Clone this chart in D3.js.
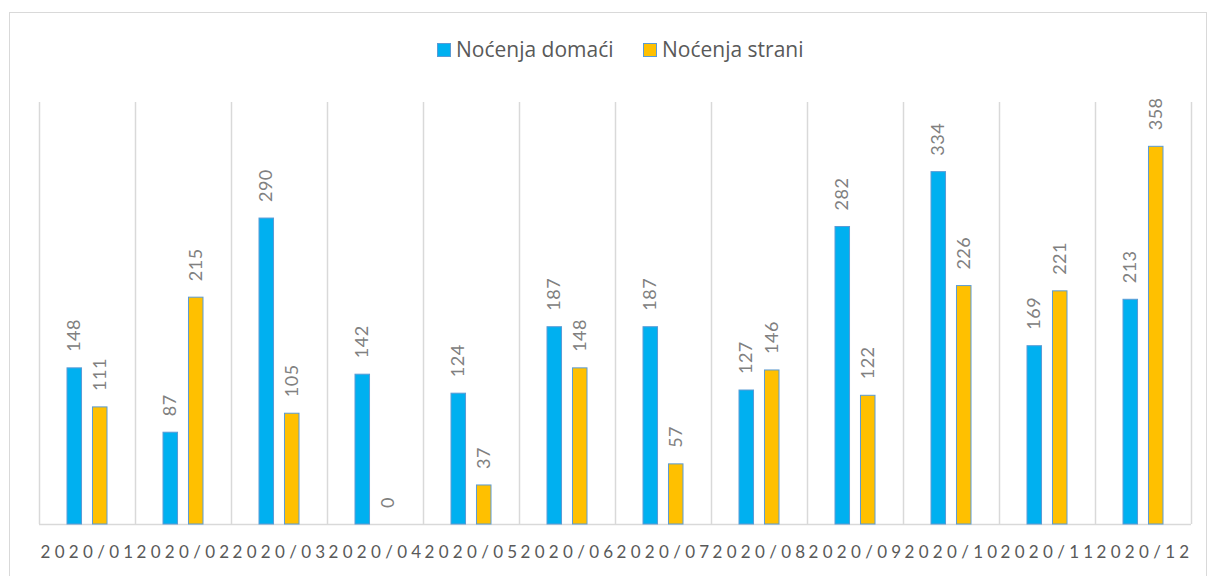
<!DOCTYPE html>
<html>
<head>
<meta charset="utf-8">
<script src="https://cdn.jsdelivr.net/npm/d3@7"></script>
<style>
  body { margin: 0; background: #fff; }
  svg { display: block; font-family: "Open Sans", Lato, sans-serif; }
</style>
</head>
<body>
<div class="chart"></div>
<script>
// Data
const months = ["2020/01", "2020/02", "2020/03", "2020/04", "2020/05", "2020/06",
                "2020/07", "2020/08", "2020/09", "2020/10", "2020/11", "2020/12"];
const domaci = [148, 87, 290, 142, 124, 187, 187, 127, 282, 334, 169, 213];
const strani = [111, 215, 105, 0, 37, 148, 57, 146, 122, 226, 221, 358];
const seriesNames = ["Noćenja domaći", "Noćenja strani"];
const seriesColors = ["#00B0F0", "#FFC000"];

const width = 1209, height = 576;
const margin = { top: 102, right: 18, bottom: 52, left: 39 };
const chartWidth = width - margin.left - margin.right;
const chartHeight = height - margin.top - margin.bottom;

const svg = d3.select(".chart").append("svg")
    .attr("width", width)
    .attr("height", height);

// outer chart border
svg.append("rect")
    .attr("x", 9.5).attr("y", 12.5)
    .attr("width", 1197).attr("height", 580)
    .attr("fill", "none")
    .attr("stroke", "#d9d9d9");

const g = svg.append("g")
    .attr("transform", `translate(${margin.left}, ${margin.top})`);

const xScale = d3.scaleBand()
    .domain(months)
    .range([0, chartWidth]);

// two bars inside each month
const inner = d3.scaleBand()
    .domain([0, 1])
    .range([28, 68])
    .paddingInner(0.43);

const yScale = d3.scaleLinear()
    .domain([0, 400])
    .range([chartHeight, 0]);

// vertical gridlines between categories
g.selectAll(".vgrid")
    .data(d3.range(months.length + 1))
    .enter()
    .append("line")
    .attr("x1", i => i * xScale.step() + 0.5)
    .attr("x2", i => i * xScale.step() + 0.5)
    .attr("y1", 0)
    .attr("y2", chartHeight)
    .attr("stroke", "#d9d9d9")
    .attr("stroke-width", 1.5);

// baseline
g.append("line")
    .attr("x1", 0).attr("x2", chartWidth)
    .attr("y1", chartHeight + 0.5).attr("y2", chartHeight + 0.5)
    .attr("stroke", "#d9d9d9")
    .attr("stroke-width", 1.5);

// x axis labels
const xAxis = d3.axisBottom(xScale).tickSize(0).tickPadding(22);
const xg = g.append("g")
    .attr("transform", `translate(0, ${chartHeight})`)
    .call(xAxis);
xg.select(".domain").remove();
xg.selectAll("text")
    .attr("fill", "#595959")
    .style("font-family", "Lato, sans-serif")
    .style("font-size", "17px")
    .style("letter-spacing", "4.3px")
    .attr("dx", "2px");

// bars
const rows = months.map((m, i) => ({ month: m, values: [domaci[i], strani[i]] }));
const groups = g.selectAll(".group")
    .data(rows)
    .enter()
    .append("g")
    .attr("transform", d => `translate(${xScale(d.month)}, 0)`);

groups.selectAll("rect")
    .data(d => d.values.map((v, s) => ({ s, v })))
    .enter()
    .append("rect")
    .attr("x", d => inner(d.s))
    .attr("y", d => yScale(d.v))
    .attr("width", inner.bandwidth())
    .attr("height", d => chartHeight - yScale(d.v))
    .attr("fill", d => seriesColors[d.s])
    .attr("stroke", "#5B9BD5")
    .attr("stroke-width", 1);

// value labels
groups.selectAll(".val")
    .data(d => d.values.map((v, s) => ({ s, v })))
    .enter()
    .append("text")
    .attr("transform", d => `translate(${inner(d.s) + inner.bandwidth() / 2 + 6}, ${yScale(d.v) - 16}) rotate(-90)`)
    .attr("fill", "#808080")
    .style("font-family", "Lato, sans-serif")
    .style("font-size", "18px")
    .style("letter-spacing", "0.5px")
    .text(d => d.v);

// legend
const legend = svg.append("g").attr("transform", "translate(437, 43)");
const items = legend.selectAll(".item")
    .data(seriesNames)
    .enter()
    .append("g")
    .attr("transform", (d, i) => `translate(${i * 206}, 0)`);
items.append("rect")
    .attr("x", 0.5).attr("y", 0.5)
    .attr("width", 13).attr("height", 13)
    .attr("fill", (d, i) => seriesColors[i])
    .attr("stroke", "#5B9BD5");
items.append("text")
    .attr("x", 19).attr("y", 14)
    .attr("fill", "#595959")
    .style("font-size", "21px")
    .text(d => d);
</script>
</body>
</html>
